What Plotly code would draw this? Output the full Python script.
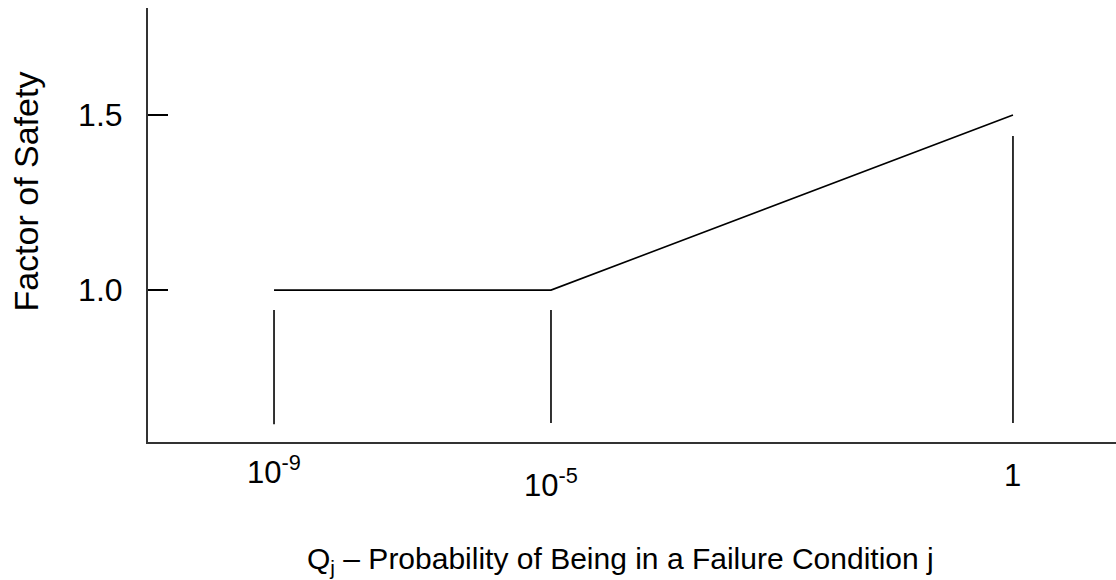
import plotly.graph_objects as go

# ---- data ----
x_positions = [0.0, 1.0, 2.668]          # relative horizontal positions of the three probability marks
x_tick_labels = ["10<sup>-9</sup>", "10<sup>-5</sup>", "1"]
factor_of_safety = [1.0, 1.0, 1.5]
marker_bottom = [0.617, 0.62, 0.62]
marker_top = [0.943, 0.943, 1.44]
y_tick_values = [1.0, 1.5]
y_tick_labels = ["1.0", "1.5"]
x_title = "Q<sub>j</sub> – Probability of Being in a Failure Condition j"
y_title = "Factor of Safety"

FONT = "Arial, Liberation Sans, sans-serif"

fig = go.Figure()

# main factor-of-safety curve
fig.add_trace(go.Scatter(
    x=x_positions, y=factor_of_safety, mode="lines",
    line=dict(color="black", width=1.6), hoverinfo="skip", showlegend=False,
))

# vertical marker lines
vx, vy = [], []
for xp, yb, yt in zip(x_positions, marker_bottom, marker_top):
    vx += [xp, xp, None]
    vy += [yb, yt, None]
fig.add_trace(go.Scatter(
    x=vx, y=vy, mode="lines",
    line=dict(color="black", width=1.6), hoverinfo="skip", showlegend=False,
))

# x tick labels (staggered as in the original)
label_shifts = [-6, -19, -14]
for xp, lab, sh in zip(x_positions, x_tick_labels, label_shifts):
    fig.add_annotation(
        x=xp, xref="x", y=0, yref="paper", text=lab, showarrow=False,
        xanchor="center", yanchor="top", yshift=sh,
        font=dict(family=FONT, size=31, color="black"),
    )

# axis titles
fig.add_annotation(
    x=0.5, xref="paper", y=0, yref="paper", text=x_title, showarrow=False,
    xanchor="center", yanchor="middle", yshift=-118, xshift=-12,
    font=dict(family=FONT, size=30, color="black"),
)
fig.add_annotation(
    x=0, xref="paper", y=0.577, yref="paper", text=y_title, showarrow=False,
    textangle=-90, xanchor="center", yanchor="middle", xshift=-122,
    font=dict(family=FONT, size=34, color="black"),
)

x_left = x_positions[0] - 0.455
x_right = x_positions[2] + 0.372

fig.update_layout(
    width=1116, height=580,
    margin=dict(l=148, r=0, t=8, b=138, pad=0),
    paper_bgcolor="white", plot_bgcolor="white",
    xaxis=dict(
        range=[x_left, x_right], showgrid=False, zeroline=False,
        showline=True, linecolor="#333333", linewidth=2,
        showticklabels=False, ticks="",
    ),
    yaxis=dict(
        range=[0.566, 1.806], showgrid=False, zeroline=False,
        showline=True, linecolor="#333333", linewidth=2,
        tickvals=y_tick_values, ticktext=y_tick_labels,
        ticks="inside", ticklen=20, tickwidth=1.6, tickcolor="black",
        ticklabelstandoff=17,
        tickfont=dict(family=FONT, size=32, color="black"),
    ),
)

fig.write_html(
    "out.html",
    config={"displayModeBar": False},
    post_script="document.body.style.margin='0';document.body.style.overflow='hidden';",
)
